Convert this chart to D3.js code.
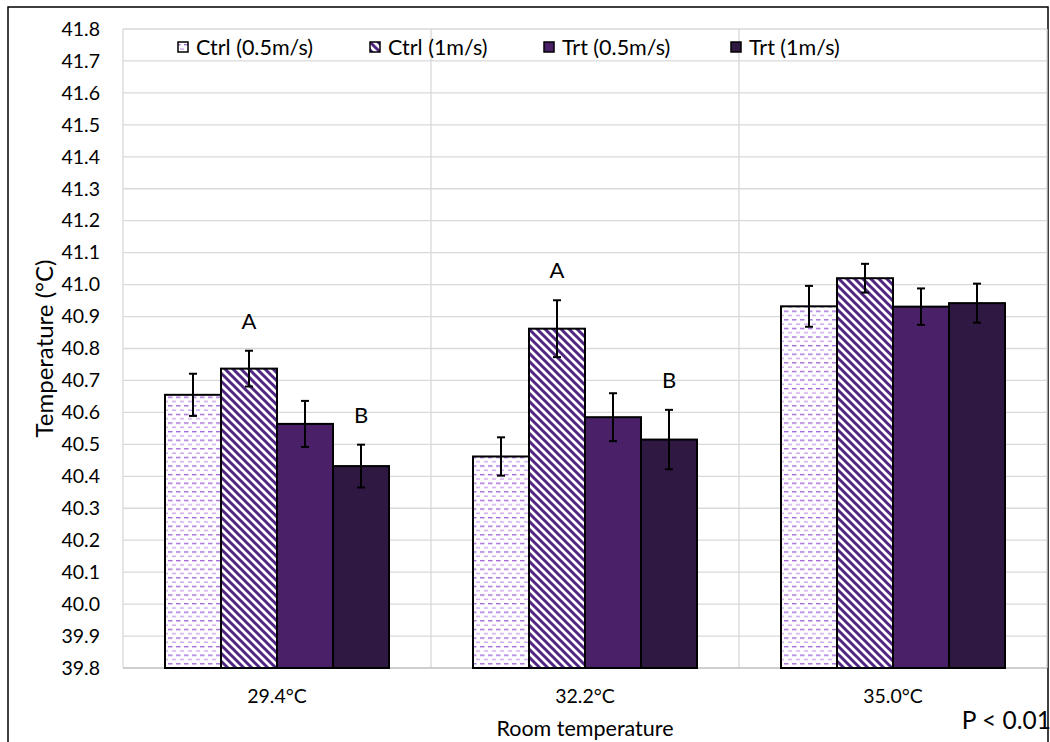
<!DOCTYPE html>
<html>
<head>
<meta charset="utf-8">
<script src="https://cdn.jsdelivr.net/npm/d3@7/dist/d3.min.js"></script>
<style>
  html, body { margin: 0; padding: 0; background: #fff; }
  svg text { font-family: Lato, "Open Sans", sans-serif; fill: #000; }
</style>
</head>
<body>
<svg id="chart" width="1050" height="742"></svg>
<script>
// ---- data ----
const categories = ["29.4°C", "32.2°C", "35.0°C"];
const seriesNames = ["Ctrl (0.5m/s)", "Ctrl (1m/s)", "Trt (0.5m/s)", "Trt (1m/s)"];
const ctrl05 = [40.655, 40.462, 40.932];
const ctrl1  = [40.737, 40.862, 41.020];
const trt05  = [40.564, 40.585, 40.931];
const trt1   = [40.432, 40.515, 40.942];
const ctrl05Err = [0.066, 0.060, 0.064];
const ctrl1Err  = [0.056, 0.089, 0.045];
const trt05Err  = [0.072, 0.075, 0.057];
const trt1Err   = [0.067, 0.093, 0.061];
const yTicks = [39.8, 39.9, 40.0, 40.1, 40.2, 40.3, 40.4, 40.5, 40.6, 40.7, 40.8, 40.9, 41.0, 41.1, 41.2, 41.3, 41.4, 41.5, 41.6, 41.7, 41.8];
const letterCats   = [0, 0, 1, 1];
const letterSeries = [1, 3, 1, 3];
const letterTexts  = ["A", "B", "A", "B"];
const yTitle = "Temperature (°C)";
const xTitle = "Room temperature";
const pNote = "P < 0.01";

const values = [ctrl05, ctrl1, trt05, trt1];
const errors = [ctrl05Err, ctrl1Err, trt05Err, trt1Err];

// ---- layout ----
const svg = d3.select("#chart");
const plot = { left: 123, right: 1047, top: 29, bottom: 668 };

// frame
svg.append("rect").attr("x", 8).attr("y", 7).attr("width", 1040).attr("height", 760)
  .attr("fill", "none").attr("stroke", "#000").attr("stroke-width", 1.5);

// patterns
const defs = svg.append("defs");
const pDash = defs.append("pattern").attr("id", "pDash").attr("patternUnits", "userSpaceOnUse")
  .attr("width", 8).attr("height", 8.6);
pDash.append("rect").attr("width", 8).attr("height", 8.6).attr("fill", "#fff");
pDash.append("rect").attr("x", 0).attr("y", 1).attr("width", 4.5).attr("height", 1.3).attr("fill", "#9d5fd8");
pDash.append("rect").attr("x", 4).attr("y", 5.3).attr("width", 4.5).attr("height", 1.3).attr("fill", "#c69ded");

const pDiag = defs.append("pattern").attr("id", "pDiag").attr("patternUnits", "userSpaceOnUse")
  .attr("width", 8).attr("height", 8);
pDiag.append("rect").attr("width", 8).attr("height", 8).attr("fill", "#fff");
pDiag.append("path").attr("d", "M-4,4 L4,12 M0,0 L8,8 M4,-4 L12,4")
  .attr("stroke", "#522683").attr("stroke-width", 3).attr("fill", "none");

const fills = ["url(#pDash)", "url(#pDiag)", "#4a2068", "#2f1842"];

// scales
const x = d3.scaleBand().domain(categories).range([plot.left, plot.right]).paddingInner(0).paddingOuter(0);
const xs = d3.scaleBand().domain(d3.range(seriesNames.length)).range([0, x.bandwidth()]).paddingInner(0).paddingOuter(0.75);
const y = d3.scaleLinear().domain([39.8, 41.8]).range([plot.bottom, plot.top]);

// horizontal gridlines
svg.append("g").selectAll("line").data(yTicks.slice(1)).join("line")
  .attr("x1", plot.left).attr("x2", plot.right)
  .attr("y1", d => y(d)).attr("y2", d => y(d))
  .attr("stroke", "#d9d9d9").attr("stroke-width", 1.3);

// vertical gridlines at category boundaries
const vLines = categories.map(c => x(c)).concat([x(categories[categories.length - 1]) + x.bandwidth()]);
svg.append("g").selectAll("line").data(vLines).join("line")
  .attr("x1", d => d).attr("x2", d => d)
  .attr("y1", plot.top).attr("y2", plot.bottom)
  .attr("stroke", "#d9d9d9").attr("stroke-width", 1.3);

// x axis line
svg.append("line").attr("x1", plot.left).attr("x2", plot.right)
  .attr("y1", plot.bottom).attr("y2", plot.bottom)
  .attr("stroke", "#bfbfbf").attr("stroke-width", 1.5);

// y axis labels
const yAxis = d3.axisLeft(y).tickValues(yTicks).tickFormat(d3.format(".1f")).tickSize(0).tickPadding(23);
const gy = svg.append("g").attr("transform", `translate(${plot.left},0)`).call(yAxis);
gy.select(".domain").remove();
gy.selectAll("text").style("font-family", "Lato, sans-serif").style("font-size", "19.5px").attr("fill", "#000");

// x axis labels
const xAxis = d3.axisBottom(x).tickSize(0).tickPadding(21);
const gx = svg.append("g").attr("transform", `translate(0,${plot.bottom})`).call(xAxis);
gx.select(".domain").remove();
gx.selectAll("text").style("font-family", "Lato, sans-serif").style("font-size", "19.5px").attr("fill", "#000");

// bars
const barData = [];
categories.forEach((c, ci) => {
  seriesNames.forEach((s, si) => {
    barData.push({ c, ci, si, v: values[si][ci], e: errors[si][ci] });
  });
});

svg.append("g").selectAll("rect").data(barData).join("rect")
  .attr("x", d => x(d.c) + xs(d.si))
  .attr("y", d => y(d.v))
  .attr("width", xs.bandwidth())
  .attr("height", d => y(39.8) - y(d.v))
  .attr("fill", d => fills[d.si])
  .attr("stroke", "#000").attr("stroke-width", 2);

// error bars
const eg = svg.append("g").attr("stroke", "#000").attr("stroke-width", 2);
barData.forEach(d => {
  const cx = x(d.c) + xs(d.si) + xs.bandwidth() / 2;
  const y1 = y(d.v + d.e), y2 = y(d.v - d.e);
  eg.append("line").attr("x1", cx).attr("x2", cx).attr("y1", y1).attr("y2", y2);
  eg.append("line").attr("x1", cx - 4).attr("x2", cx + 4).attr("y1", y1).attr("y2", y1);
  eg.append("line").attr("x1", cx - 4).attr("x2", cx + 4).attr("y1", y2).attr("y2", y2);
});

// significance letters
letterTexts.forEach((t, i) => {
  const ci = letterCats[i], si = letterSeries[i];
  const v = values[si][ci] + errors[si][ci];
  svg.append("text")
    .attr("x", x(categories[ci]) + xs(si) + xs.bandwidth() / 2)
    .attr("y", y(v) - 22)
    .attr("text-anchor", "middle")
    .style("font-size", "22px")
    .text(t);
});

// legend
const legendX = [178, 370, 544, 731];
const lg = svg.append("g");
seriesNames.forEach((s, i) => {
  lg.append("rect").attr("x", legendX[i]).attr("y", 42).attr("width", 10).attr("height", 10)
    .attr("fill", fills[i]).attr("stroke", "#000").attr("stroke-width", 1.5);
  lg.append("text").attr("x", legendX[i] + 18).attr("y", 55)
    .style("font-size", "21.5px").text(s);
});

// axis titles
svg.append("text")
  .attr("transform", `translate(53,${(plot.top + plot.bottom) / 2}) rotate(-90)`)
  .attr("text-anchor", "middle").style("font-size", "24px").text(yTitle);

svg.append("text")
  .attr("x", (plot.left + plot.right) / 2).attr("y", 736)
  .attr("text-anchor", "middle").style("font-size", "21.5px").text(xTitle);

svg.append("text")
  .attr("x", 1051).attr("y", 729)
  .attr("text-anchor", "end").style("font-size", "24.5px").text(pNote);
</script>
</body>
</html>
